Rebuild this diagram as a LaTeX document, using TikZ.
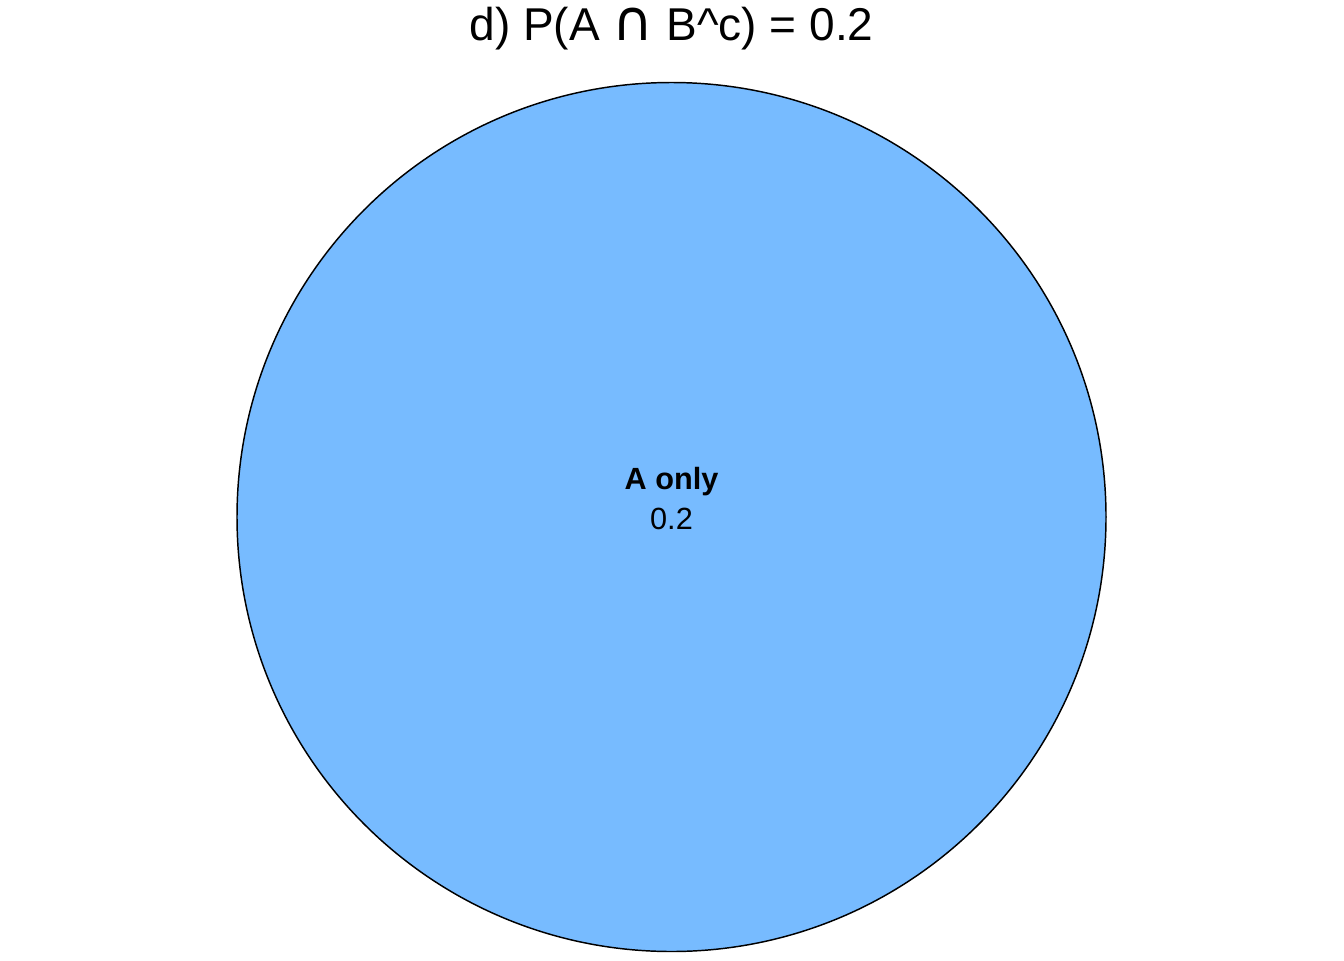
\documentclass[tikz,border=0pt]{standalone}
\usepackage{fontspec}
\setmainfont{Liberation Sans}
\newfontfamily\symfont{DejaVu Sans}
\usepackage{tikz}
\usetikzlibrary{positioning}
\definecolor{setblue}{RGB}{119,187,255}
\tikzset{
  setA/.style={draw=black,fill=setblue,line width=1.1pt},
  title/.style={font=\fontsize{34.5}{40}\selectfont,anchor=base},
  region/.style={font=\fontsize{23}{28}\selectfont\bfseries,anchor=base},
  prob/.style={font=\fontsize{23}{28}\selectfont,anchor=base}
}

\begin{document}
\begin{tikzpicture}[x=0.75pt, y=-0.75pt]

  % Canvas
  \useasboundingbox (0,0) rectangle (1344,960);

  % Set A
  \draw[setA] (671.5,517) circle (434.5);

  % Title
  \node[title] (ttl) at (671.5,40)
    {d) P(A {\symfont\fontsize{42}{40}\selectfont ∩} B\^{}c) = 0.2};

  % Region label
  \node[region] (lab) at (671.5,489) {A only};
  \node[prob] (val) at (671.5,529) {0.2};
\end{tikzpicture}
\end{document}
